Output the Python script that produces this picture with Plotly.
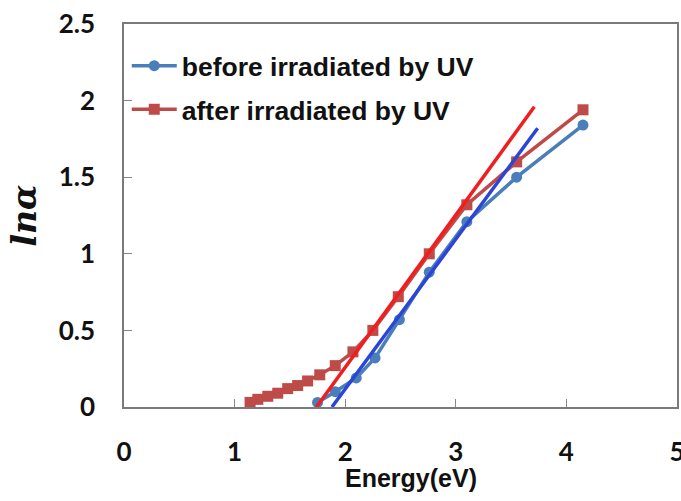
import plotly.graph_objects as go

# Photon energy (eV) and ln(alpha) for the film before and after UV exposure
energy_before = [1.75, 1.91, 2.10, 2.27, 2.49, 2.76, 3.10, 3.55, 4.15]
ln_alpha_before = [0.03, 0.10, 0.19, 0.32, 0.57, 0.88, 1.21, 1.50, 1.84]

energy_after = [1.14, 1.21, 1.30, 1.39, 1.48, 1.57, 1.66, 1.77, 1.91, 2.07,
                2.25, 2.48, 2.76, 3.10, 3.55, 4.15]
ln_alpha_after = [0.03, 0.05, 0.07, 0.09, 0.12, 0.14, 0.17, 0.21, 0.27, 0.36,
                  0.50, 0.72, 1.00, 1.32, 1.60, 1.94]

# Linear extrapolation of the absorption edge (end points of each fit line)
fit_before_x = [1.88, 3.74]
fit_before_y = [0.0, 1.82]
fit_after_x = [1.74, 3.71]
fit_after_y = [0.0, 1.96]

x_ticks = [0, 1, 2, 3, 4, 5]
y_ticks = [0, 0.5, 1, 1.5, 2, 2.5]
y_tick_text = ["0", "0.5", "1", "1.5", "2", "2.5"]

BLUE = "#4a7ebb"
RED = "#be4b48"

fig = go.Figure()

fig.add_trace(go.Scatter(
    x=energy_before, y=ln_alpha_before, mode="lines+markers",
    name="before irradiated by UV", legendgroup="a",
    line=dict(color=BLUE, width=3.5),
    marker=dict(symbol="circle", size=11, color=BLUE),
))
fig.add_trace(go.Scatter(
    x=energy_after, y=ln_alpha_after, mode="lines+markers",
    name="after irradiated by UV", legendgroup="b",
    line=dict(color=RED, width=3.5),
    marker=dict(symbol="square", size=11, color=RED),
))
fig.add_trace(go.Scatter(
    x=fit_before_x, y=fit_before_y, mode="lines", showlegend=False,
    line=dict(color="#2b45d6", width=3.5),
))
fig.add_trace(go.Scatter(
    x=fit_after_x, y=fit_after_y, mode="lines", showlegend=False,
    line=dict(color="#f01e1e", width=3.5),
))

tick_font = dict(family="Lato", size=26, color="#111111", weight="bold")

fig.update_layout(
    width=681, height=501,
    margin=dict(l=124, r=4, t=24, b=94),
    paper_bgcolor="white", plot_bgcolor="white",
    showlegend=True,
    legend=dict(
        x=0.005, y=0.953, xanchor="left", yanchor="top",
        font=dict(family="Liberation Sans", size=26.5, color="#111111", weight="bold"),
        bgcolor="rgba(255,255,255,0)",
        itemwidth=45, traceorder="grouped", tracegroupgap=6,
    ),
    xaxis=dict(
        range=[0, 5], tickvals=x_ticks, ticktext=[str(v) for v in x_ticks],
        tickfont=tick_font, ticks="inside", ticklen=8, tickcolor="#888888",
        showline=True, linecolor="#7a7a7a", linewidth=1.5, mirror=True,
        showgrid=False, zeroline=False, ticklabelstandoff=21,
        ticklabeloverflow="allow", automargin=False,
    ),
    yaxis=dict(
        range=[0, 2.5], tickvals=y_ticks, ticktext=y_tick_text,
        tickfont=tick_font, ticks="inside", ticklen=8, tickcolor="#888888",
        showline=True, linecolor="#7a7a7a", linewidth=1.5, mirror=True,
        showgrid=False, zeroline=False, ticklabelstandoff=22,
        automargin=False,
        title=dict(text="lnα", standoff=12,
                   font=dict(family="DejaVu Serif", size=33, color="#111111",
                             weight="bold", style="italic")),
    ),
    annotations=[dict(
        text="Energy(eV)", xref="paper", yref="paper", x=0.519, y=-0.185,
        xanchor="center", yanchor="middle", showarrow=False,
        font=dict(family="Liberation Sans", size=25, color="#111111", weight="bold"),
    )],
)

fig.write_html("out.html")
